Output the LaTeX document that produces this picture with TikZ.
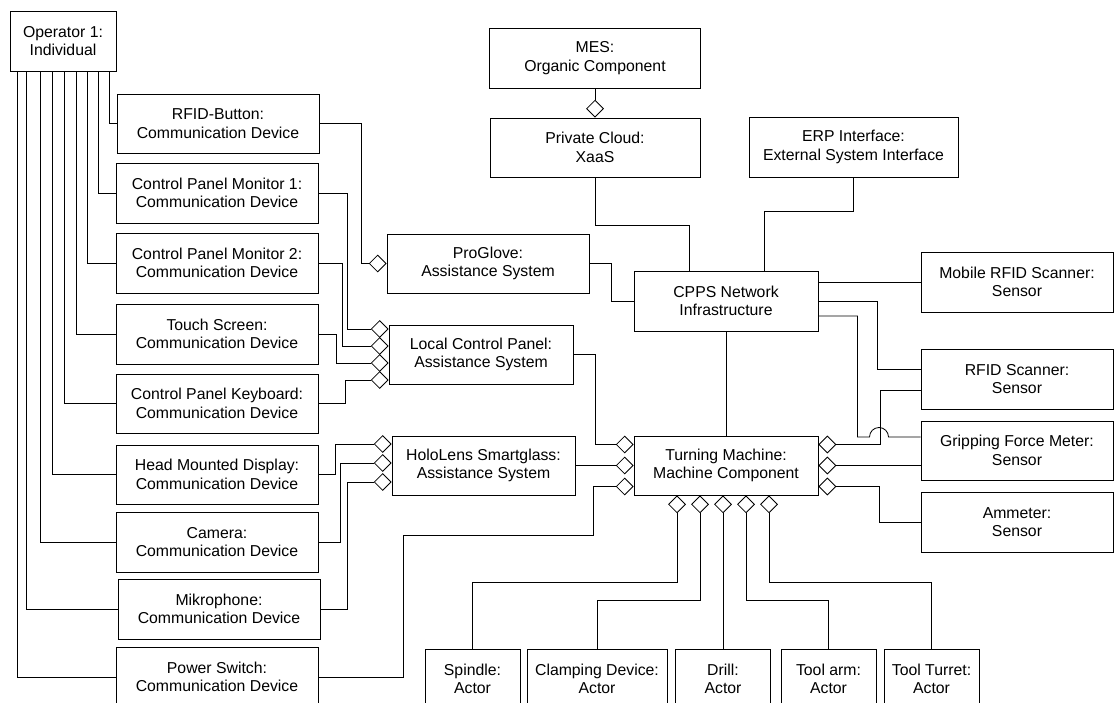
\documentclass[tikz,border=0pt]{standalone}
\usepackage{fontspec}
\setmainfont{Liberation Sans}
\usetikzlibrary{shapes.geometric,calc}

\tikzset{
  box/.style={draw, line width=0.9pt, fill=white, align=center, inner sep=0pt,
              minimum height=60pt},
  dia/.style={diamond, draw, line width=0.8pt, fill=white, inner sep=0pt,
              minimum width=17pt, minimum height=17pt},
  wire/.style={line width=0.8pt},
}

\begin{document}
\begin{tikzpicture}[x=1pt, y=-1pt, font=\fontsize{15.8}{18.5}\selectfont]
\path[use as bounding box] (0,0) rectangle (1114,703);
\clip (0,0) rectangle (1114,703);

% ---- operator and its devices
\node[box, minimum width=106pt] (op) at (63,41) {Operator 1:\\Individual};
\node[box, minimum width=202pt, minimum height=59pt] (rfidb) at (218,123.5) {RFID-Button:\\Communication Device};
\node[box, minimum width=202pt] (cpm1) at (217,193) {Control Panel Monitor 1:\\Communication Device};
\node[box, minimum width=202pt] (cpm2) at (217,263) {Control Panel Monitor 2:\\Communication Device};
\node[box, minimum width=202pt] (touch) at (217,334) {Touch Screen:\\Communication Device};
\node[box, minimum width=202pt, minimum height=59pt] (kbd) at (217,403.5) {Control Panel Keyboard:\\Communication Device};
\node[box, minimum width=202pt, minimum height=59pt] (hmd) at (217,474.5) {Head Mounted Display:\\Communication Device};
\node[box, minimum width=202pt] (cam) at (217,542) {Camera:\\Communication Device};
\node[box, minimum width=202pt] (mic) at (219,609) {Mikrophone:\\Communication Device};
\node[box, minimum width=202pt] (psw) at (217,677) {Power Switch:\\Communication Device};

% ---- assistance systems
\node[box, minimum width=202pt, minimum height=59pt] (pg) at (488,263.5) {ProGlove:\\Assistance System};
\node[box, minimum width=184pt, minimum height=59pt] (lcp) at (481,354.5) {Local Control Panel:\\Assistance System};
\node[box, minimum width=183pt, minimum height=59pt] (holo) at (483.5,465.5) {HoloLens Smartglass:\\Assistance System};

% ---- upper systems
\node[box, minimum width=211pt] (mes) at (595,58) {MES:\\Organic Component};
\node[box, minimum width=210pt, minimum height=59pt] (pc) at (595,147.5) {Private Cloud:\\XaaS};
\node[box, minimum width=209pt] (erp) at (853.5,147) {ERP Interface:\\External System Interface};
\node[box, minimum width=184pt] (cpps) at (726,301) {CPPS Network\\Infrastructure};
\node[box, minimum width=184pt, minimum height=59pt] (tm) at (726,465.5) {Turning Machine:\\Machine Component};

% ---- sensors
\node[box, minimum width=192pt] (mob) at (1017,282) {Mobile RFID Scanner:\\Sensor};
\node[box, minimum width=192pt] (rfs) at (1017,379) {RFID Scanner:\\Sensor};
\node[box, minimum width=192pt, minimum height=59pt] (grip) at (1017,450.5) {Gripping Force Meter:\\Sensor};
\node[box, minimum width=192pt] (amm) at (1017,522) {Ammeter:\\Sensor};

% ---- actors
\node[box, minimum width=95pt] (spin) at (472.5,679) {Spindle:\\Actor};
\node[box, minimum width=140pt] (clamp) at (597,679) {Clamping Device:\\Actor};
\node[box, minimum width=95pt] (drill) at (723,679) {Drill:\\Actor};
\node[box, minimum width=95pt] (arm) at (828.5,679) {Tool arm:\\Actor};
\node[box, minimum width=95pt] (tur) at (931.5,679) {Tool Turret:\\Actor};

% ---- aggregation diamonds
\node[dia, anchor=south] (dPC) at (pc.north) {};
\node[dia, anchor=east] (dPG) at (pg.west) {};
\node[dia, anchor=east] (dL1) at ([yshift=25.5pt]lcp.west) {};
\node[dia, anchor=east] (dL2) at ([yshift=8.5pt]lcp.west) {};
\node[dia, anchor=east] (dL3) at ([yshift=-8.5pt]lcp.west) {};
\node[dia, anchor=east] (dL4) at ([yshift=-25.5pt]lcp.west) {};
\node[dia, anchor=east] (dH1) at ([yshift=21.5pt]holo.west) {};
\node[dia, anchor=east] (dH2) at ([yshift=2.5pt]holo.west) {};
\node[dia, anchor=east] (dH3) at ([yshift=-16.5pt]holo.west) {};
\node[dia, anchor=east] (dT1) at ([yshift=21pt]tm.west) {};
\node[dia, anchor=east] (dT2) at (tm.west) {};
\node[dia, anchor=east] (dT3) at ([yshift=-21pt]tm.west) {};
\node[dia, anchor=west] (dR1) at ([yshift=21pt]tm.east) {};
\node[dia, anchor=west] (dR2) at (tm.east) {};
\node[dia, anchor=west] (dR3) at ([yshift=-21pt]tm.east) {};
\node[dia, anchor=north] (dB1) at ([xshift=-49pt]tm.south) {};
\node[dia, anchor=north] (dB2) at ([xshift=-26pt]tm.south) {};
\node[dia, anchor=north] (dB3) at ([xshift=-3pt]tm.south) {};
\node[dia, anchor=north] (dB4) at ([xshift=20pt]tm.south) {};
\node[dia, anchor=north] (dB5) at ([xshift=43pt]tm.south) {};

% ---- operator to devices
\begin{scope}[wire]
\draw ([xshift=100pt]op.south west) |- (rfidb.west);
\draw ([xshift=89pt]op.south west) |- (cpm1.west);
\draw ([xshift=78pt]op.south west) |- (cpm2.west);
\draw ([xshift=67pt]op.south west) |- (touch.west);
\draw ([xshift=55pt]op.south west) |- (kbd.west);
\draw ([xshift=43pt]op.south west) |- (hmd.west);
\draw ([xshift=31pt]op.south west) |- (cam.west);
\draw ([xshift=17pt]op.south west) |- (mic.west);
\draw ([xshift=8pt]op.south west) |- (psw.west);

% ---- devices to assistance systems
\draw (rfidb.east) -- ++(42,0) |- (dPG.west);
\draw (cpm1.east) -- ++(29,0) |- (dL1.west);
\draw (cpm2.east) -- ++(24,0) |- (dL2.west);
\draw (touch.east) -- ++(18,0) |- (dL3.west);
\draw (kbd.east) -- ++(27,0) |- (dL4.west);
\draw (hmd.east) -- ++(17,0) |- (dH1.west);
\draw (cam.east) -- ++(22,0) |- (dH2.west);
\draw (mic.east) -- ++(27,0) |- (dH3.west);
\draw (psw.east) -- ++(85,0) -- ++(0,-142) -| ($(dT3.west)+(-22,0)$) -- (dT3.west);

% ---- assistance systems to the network and the machine
\draw (pg.east) -- ++(22,0) |- (cpps.west);
\draw (lcp.east) -- ++(22,0) |- (dT1.west);
\draw (holo.east) -- (dT2.west);

% ---- upper systems
\draw (mes.south) -- (dPC.north);
\draw (pc.south) -- ++(0,48) -| ([xshift=-37pt]cpps.north);
\draw (erp.south) -- ++(0,34) -| ([xshift=38pt]cpps.north);
\draw (cpps.south) -- (tm.north);

% ---- sensors
\draw ([yshift=19pt]cpps.east) -- (mob.west);
\draw (cpps.east) -- ++(59,0) |- ([yshift=10pt]rfs.west);
\coordinate (hopL) at (869.5,437);
\coordinate (hopR) at (888.5,437);
\draw ([yshift=-15pt]cpps.east) -- ++(39,0) |- (hopL)
      .. controls (869.5,431.75) and (873.75,427.5) .. (879,427.5)
      .. controls (884.25,427.5) and (888.5,431.75) .. (hopR)
      -- ([yshift=13.5pt]grip.west);
\draw ([yshift=-11pt]rfs.west) -| ($(dR1.east)+(44,0)$) -- (dR1.east);
\draw (dR2.east) -- ([yshift=-15pt]grip.west);
\draw (dR3.east) -- ++(43,0) |- (amm.west);

% ---- actors
\draw (dB1.south) -- ++(0,69) -| (spin.north);
\draw (dB2.south) -- ++(0,87) -| (clamp.north);
\draw (dB3.south) -- (drill.north);
\draw (dB4.south) -- ++(0,87) -| (arm.north);
\draw (dB5.south) -- ++(0,69) -| (tur.north);
\end{scope}
\end{tikzpicture}
\end{document}
